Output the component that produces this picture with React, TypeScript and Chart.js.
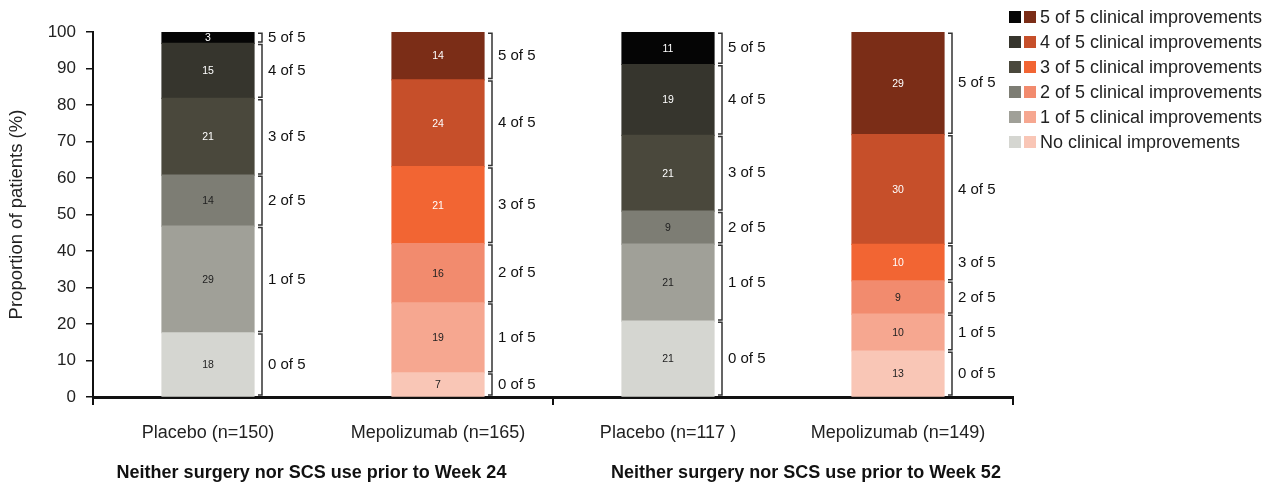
import React, { useEffect, useRef } from "react";
import { Chart, registerables } from "chart.js";

Chart.register(...registerables);

const FONT = '"Liberation Sans", Arial, Helvetica, sans-serif';

// Categories (x axis)
const categories = ["Placebo (n=150)", "Mepolizumab (n=165)", "Placebo (n=117 )", "Mepolizumab (n=149)"];
const groupTitles = ["Neither surgery nor SCS use prior to Week 24", "Neither surgery nor SCS use prior to Week 52"];
const groupTitleIndex = [0.45, 2.6];

// Stack levels (bottom to top)
const levelNames = [
  "No clinical improvements",
  "1 of 5 clinical improvements",
  "2 of 5 clinical improvements",
  "3 of 5 clinical improvements",
  "4 of 5 clinical improvements",
  "5 of 5 clinical improvements",
];
const bracketLabels = ["0 of 5", "1 of 5", "2 of 5", "3 of 5", "4 of 5", "5 of 5"];

// Segment heights (%) per bar, level 0..5
const placeboWeek24 = [17.6, 29.2, 14.0, 21.0, 15.1, 3.1];
const mepolizumabWeek24 = [6.6, 19.2, 16.2, 21.1, 23.8, 13.1];
const placeboWeek52 = [20.8, 21.1, 9.0, 20.8, 19.4, 8.9];
const mepolizumabWeek52 = [12.6, 10.1, 9.1, 10.0, 30.1, 28.1];

// Printed segment labels
const placeboWeek24Labels = ["18", "29", "14", "21", "15", "3"];
const mepolizumabWeek24Labels = ["7", "19", "16", "21", "24", "14"];
const placeboWeek52Labels = ["21", "21", "9", "21", "19", "11"];
const mepolizumabWeek52Labels = ["13", "10", "9", "10", "30", "29"];

// Y axis
const yMin = 0;
const yMax = 100;
const yStep = 10;
const yTitle = "Proportion of patients (%)";

// Colours per level
const placeboColors = ["#d5d6d1", "#a0a098", "#7d7d74", "#4a483c", "#36352d", "#050505"];
const mepolizumabColors = ["#f9c6b6", "#f6a790", "#f28b6e", "#f26533", "#c64f2a", "#7b2d17"];

const bars = [placeboWeek24, mepolizumabWeek24, placeboWeek52, mepolizumabWeek52];
const barLabels = [placeboWeek24Labels, mepolizumabWeek24Labels, placeboWeek52Labels, mepolizumabWeek52Labels];
const barPalettes = [placeboColors, mepolizumabColors, placeboColors, mepolizumabColors];

const overlayPlugin = {
  id: "overlay",
  afterDatasetsDraw(chart: any) {
    const ctx = chart.ctx;
    ctx.save();
    chart.data.datasets.forEach((_ds: any, di: number) => {
      const meta = chart.getDatasetMeta(di);
      meta.data.forEach((el: any, i: number) => {
        const p = el.getProps(["x", "y", "base", "width"], true);
        const top = Math.min(p.y, p.base);
        const bottom = Math.max(p.y, p.base);
        const mid = (top + bottom) / 2;
        // value label
        ctx.font = `10.5px ${FONT}`;
        ctx.textAlign = "center";
        ctx.textBaseline = "middle";
        ctx.fillStyle = di >= 3 ? "#ffffff" : "#222222";
        ctx.fillText(barLabels[i][di], p.x, mid + 0.5);
        // bracket
        const bx = p.x + p.width / 2 + 8;
        ctx.strokeStyle = "#333333";
        ctx.lineWidth = 1.5;
        ctx.beginPath();
        ctx.moveTo(bx - 4, top + 1.2);
        ctx.lineTo(bx, top + 1.2);
        ctx.lineTo(bx, bottom - 1.2);
        ctx.lineTo(bx - 4, bottom - 1.2);
        ctx.stroke();
        ctx.font = `15px ${FONT}`;
        ctx.textAlign = "left";
        ctx.fillStyle = "#111111";
        ctx.fillText(bracketLabels[di], bx + 6, mid);
      });
    });
    ctx.restore();
  },
  afterDraw(chart: any) {
    const ctx = chart.ctx;
    ctx.save();
    // group titles
    const xs = chart.scales.x;
    ctx.font = `bold 18px ${FONT}`;
    ctx.fillStyle = "#111111";
    ctx.textAlign = "center";
    ctx.textBaseline = "middle";
    groupTitles.forEach((t, k) => {
      ctx.fillText(t, xs.getPixelForValue(groupTitleIndex[k]), 473);
    });
    // legend (top level first)
    ctx.font = `18px ${FONT}`;
    ctx.textAlign = "left";
    for (let r = 0; r < levelNames.length; r++) {
      const lvl = levelNames.length - 1 - r;
      const cy = 17 + r * 25;
      ctx.fillStyle = placeboColors[lvl];
      ctx.fillRect(1009, cy - 6, 12, 12);
      ctx.fillStyle = mepolizumabColors[lvl];
      ctx.fillRect(1024, cy - 6, 12, 12);
      ctx.fillStyle = "#222222";
      ctx.fillText(levelNames[lvl], 1040, cy + 1);
    }
    ctx.restore();
  },
};

export default function App() {
  const ref = useRef<HTMLCanvasElement | null>(null);
  useEffect(() => {
    if (!ref.current) return;
    Chart.defaults.font.family = FONT;
    const datasets = levelNames.map((name, lvl) => ({
      label: name,
      data: bars.map((b) => b[lvl]),
      backgroundColor: barPalettes.map((pal) => pal[lvl]),
      borderWidth: 0,
      inflateAmount: 0.6,
      barPercentage: 0.4,
      categoryPercentage: 1,
    }));
    const chart = new Chart(ref.current, {
      type: "bar",
      data: { labels: categories, datasets },
      options: {
        animation: false,
        responsive: false,
        layout: { padding: { top: 32, right: 261, left: 0, bottom: 0 } },
        plugins: { legend: { display: false }, tooltip: { enabled: false } },
        scales: {
          x: {
            stacked: true,
            grid: {
              offset: true,
              drawOnChartArea: false,
              drawTicks: true,
              tickLength: 8,
              lineWidth: 2,
              color: (c: any) => (c.index === 1 || c.index === 3 ? "rgba(0,0,0,0)" : "#111111"),
            },
            border: { display: true, color: "#111111", width: 3 },
            ticks: { color: "#222222", font: { size: 18 }, padding: 17, maxRotation: 0 },
            afterFit: (s: any) => {
              s.height = 88;
            },
          },
          y: {
            stacked: true,
            min: yMin,
            max: yMax,
            ticks: { stepSize: yStep, color: "#222222", font: { size: 17 }, padding: 10 },
            grid: { drawOnChartArea: false, drawTicks: true, tickLength: 7, lineWidth: 1.5, color: "#111111" },
            border: { display: true, color: "#111111", width: 2 },
            title: { display: true, text: yTitle, color: "#222222", font: { size: 18.5 }, padding: { top: 6, bottom: 4 } },
            afterFit: (s: any) => {
              s.width = 93;
            },
          },
        },
      },
      plugins: [overlayPlugin],
    });
    return () => chart.destroy();
  }, []);
  return (
    <div style={{ position: "absolute", left: 0, top: 0, width: 1274, height: 485, background: "#fff" }}>
      <canvas ref={ref} width={1274} height={485} style={{ width: 1274, height: 485, display: "block" }} />
    </div>
  );
}
